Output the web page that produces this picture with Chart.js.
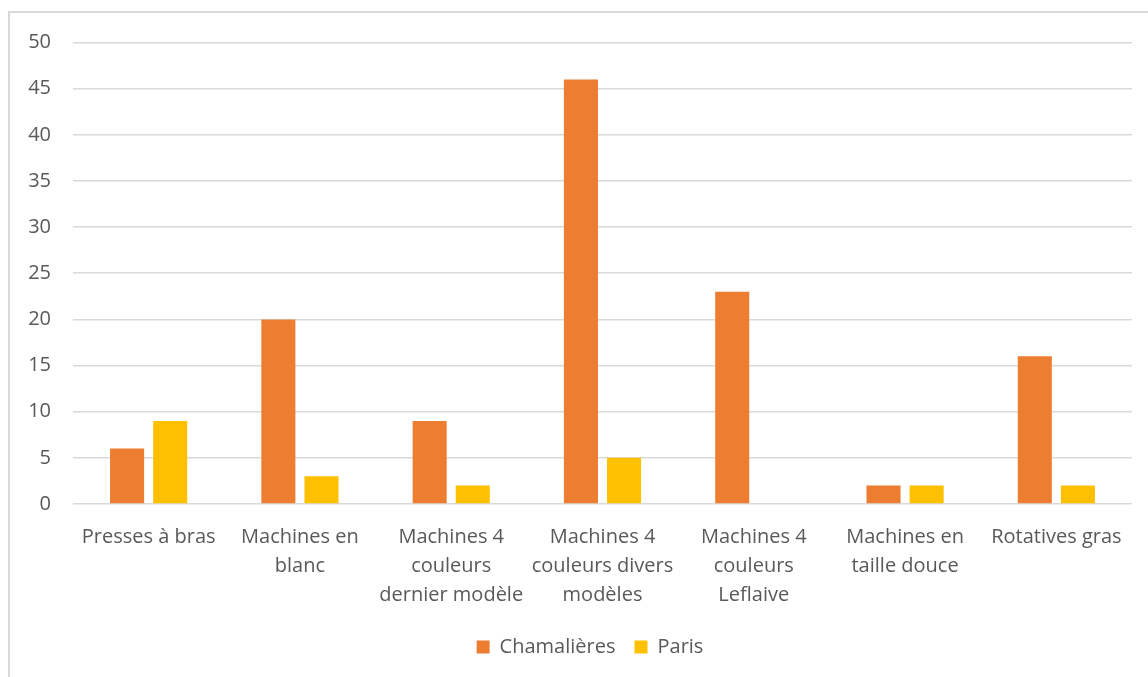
<!DOCTYPE html>
<html lang="fr">
<head>
  <meta charset="UTF-8">
  <title>Machines par site</title>
  <style>
    * { margin: 0; padding: 0; box-sizing: border-box; }
    body { width: 1148px; height: 677px; background: #fff; overflow: hidden; position: relative; }
    .frame {
      position: absolute; left: 8px; top: 11px; width: 1200px; height: 700px;
      border-top: 2px solid #d9d9d9; border-left: 2px solid #d9d9d9;
    }
    .chart-box { position: absolute; left: 10px; top: 6px; width: 1138px; height: 672px; }
  </style>
</head>
<body>
  <div class="frame"></div>
  <div class="chart-box"><canvas id="chart"></canvas></div>

  <script src="https://cdn.jsdelivr.net/npm/chart.js"></script>
  <script>
    const categories = [
      'Presses à bras',
      ['Machines en', 'blanc'],
      ['Machines 4', 'couleurs', 'dernier modèle'],
      ['Machines 4', 'couleurs divers', 'modèles'],
      ['Machines 4', 'couleurs', 'Leflaive'],
      ['Machines en', 'taille douce'],
      'Rotatives gras'
    ];
    const chamalieres = [6, 20, 9, 46, 23, 2, 16];
    const paris = [9, 3, 2, 5, 0, 2, 2];
    const yTicks = [0, 5, 10, 15, 20, 25, 30, 35, 40, 45, 50];

    const font = { family: "'Open Sans', sans-serif", size: 20, lineHeight: 1.45 };
    const textColor = '#595959';

    // the legend sits centred under the plot area, not under the whole canvas
    const shiftLegend = {
      id: 'shiftLegend',
      afterLayout(chart) {
        const lg = chart.legend;
        lg.left += 19;
        lg.right += 19;
        lg.top -= 11;
        lg.bottom -= 11;
      }
    };

    new Chart(document.getElementById('chart'), {
      type: 'bar',
      data: {
        labels: categories,
        datasets: [
          { label: 'Chamalières', data: chamalieres, backgroundColor: '#ED7D31', categoryPercentage: 0.57, barPercentage: 0.79 },
          { label: 'Paris', data: paris, backgroundColor: '#FFC000', categoryPercentage: 0.57, barPercentage: 0.79 }
        ]
      },
      plugins: [shiftLegend],
      options: {
        responsive: true,
        maintainAspectRatio: false,
        animation: false,
        layout: { padding: { top: 1, right: 16, bottom: 0, left: 0 } },
        scales: {
          x: {
            grid: { display: false, drawTicks: false },
            border: { display: false },
            ticks: { color: textColor, font: font, padding: 19, maxRotation: 0, autoSkip: false }
          },
          y: {
            min: 0, max: 50,
            afterBuildTicks: axis => { axis.ticks = yTicks.map(v => ({ value: v })); },
            afterFit: axis => { axis.width = 63; },
            grid: { color: '#d9d9d9', lineWidth: 1.6, drawTicks: false },
            border: { display: false },
            ticks: { color: textColor, font: font, padding: 22 }
          }
        },
        plugins: {
          tooltip: { enabled: false },
          legend: {
            position: 'bottom',
            labels: {
              color: textColor,
              font: { family: font.family, size: 20 },
              boxWidth: 13, boxHeight: 13, padding: 19
            }
          }
        }
      }
    });
  </script>
</body>
</html>
